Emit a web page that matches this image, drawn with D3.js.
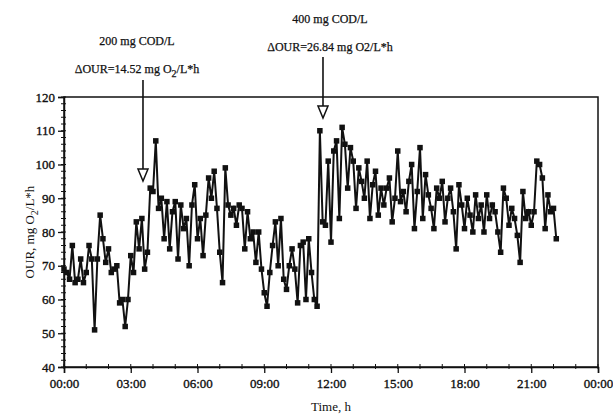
<!DOCTYPE html>
<html>
<head>
<meta charset="utf-8">
<script src="https://cdn.jsdelivr.net/npm/d3@7"></script>
<style>
  body { margin: 0; background: #fff; }
  text { font-family: "Liberation Serif", "DejaVu Serif", serif; fill: #111; }
</style>
</head>
<body>
<div class="chart"></div>
<script>
var svgWidth = 613;
var svgHeight = 418;

var margin = { top: 97, right: 15, bottom: 51, left: 64 };
var width = svgWidth - margin.left - margin.right;
var height = svgHeight - margin.top - margin.bottom;

// data: OUR samples every 7.5 min starting at 00:00
var stepMinutes = 7.5;
var ourValues = [
  69, 68, 66, 76, 65, 66, 72, 65,
  68, 76, 72, 51, 72, 85, 78, 71,
  75, 68, 69, 70, 59, 60, 52, 60,
  73, 68, 83, 75, 84, 69, 74, 93,
  92, 107, 87, 90, 78, 89, 75, 86,
  89, 72, 88, 81, 84, 70, 88, 94,
  78, 84, 73, 85, 96, 90, 98, 87,
  74, 65, 99, 88, 85, 87, 82, 88,
  87, 75, 86, 78, 80, 71, 80, 69,
  62, 58, 68, 76, 83, 70, 84, 66,
  63, 70, 75, 69, 59, 76, 77, 60,
  78, 68, 60, 58, 110, 83, 82, 101,
  77, 104, 107, 84, 111, 106, 93, 105,
  101, 87, 99, 95, 90, 101, 84, 94,
  98, 85, 93, 88, 93, 96, 83, 90,
  104, 89, 92, 86, 95, 100, 81, 92,
  105, 84, 97, 91, 87, 81, 93, 90,
  95, 83, 90, 93, 86, 75, 94, 88,
  81, 90, 85, 80, 91, 84, 88, 80,
  91, 84, 88, 86, 80, 74, 93, 90,
  82, 87, 84, 79, 71, 92, 84, 86,
  82, 86, 101, 100, 96, 81, 91, 86,
  87, 78
];

var xTickHours = [0, 3, 6, 9, 12, 15, 18, 21, 24];
var xTickLabels = ["00:00", "03:00", "06:00", "09:00", "12:00", "15:00", "18:00", "21:00", "00:00"];
var yTicks = [40, 50, 60, 70, 80, 90, 100, 110, 120];

// dosing events
var eventHours = [3.55, 11.64];
var eventLine1 = ["200 mg COD/L", "400 mg COD/L"];
var eventLine2 = ["14.52", "26.84"];

var svg = d3.select(".chart")
  .append("svg")
  .attr("width", svgWidth)
  .attr("height", svgHeight);

var chartGroup = svg.append("g")
  .attr("transform", `translate(${margin.left}, ${margin.top})`);

var xScale = d3.scaleLinear().domain([0, 24]).range([0, width]);
var yScale = d3.scaleLinear().domain([40, 120]).range([height, 0]);

// frame
chartGroup.append("rect")
  .attr("width", width)
  .attr("height", height)
  .attr("fill", "none")
  .attr("stroke", "#111")
  .attr("stroke-width", 1.5);

// minor ticks
var xMinor = d3.range(0, 25, 1);
chartGroup.selectAll(".xminor")
  .data(xMinor)
  .enter().append("line")
  .attr("x1", d => xScale(d)).attr("x2", d => xScale(d))
  .attr("y1", height - 3).attr("y2", height + 2)
  .attr("stroke", "#111");

var yMinor = d3.range(40, 121, 2);
chartGroup.selectAll(".yminor")
  .data(yMinor)
  .enter().append("line")
  .attr("x1", -3).attr("x2", 2)
  .attr("y1", d => yScale(d)).attr("y2", d => yScale(d))
  .attr("stroke", "#111");

// axes
var xAxis = d3.axisBottom(xScale)
  .tickValues(xTickHours)
  .tickFormat((d, i) => xTickLabels[i])
  .tickSize(6)
  .tickPadding(6);

var yAxis = d3.axisLeft(yScale)
  .tickValues(yTicks)
  .tickSize(6)
  .tickPadding(3);

var gx = chartGroup.append("g")
  .attr("transform", `translate(0, ${height})`)
  .call(xAxis);
var gy = chartGroup.append("g").call(yAxis);

[gx, gy].forEach(g => {
  g.select(".domain").attr("stroke", "#111").attr("stroke-width", 1.5);
  g.selectAll(".tick line").attr("stroke", "#111").attr("stroke-width", 1.3);
  g.selectAll(".tick text")
    .style("font-family", '"Liberation Serif", serif')
    .style("font-size", "13px")
    .attr("fill", "#111")
    .attr("stroke", "#111")
    .attr("stroke-width", 0.35);
});

// series
var line = d3.line()
  .x((d, i) => xScale(i * stepMinutes / 60))
  .y(d => yScale(d));

chartGroup.append("path")
  .attr("d", line(ourValues))
  .attr("fill", "none")
  .attr("stroke", "#111")
  .attr("stroke-width", 2);

chartGroup.selectAll(".pt")
  .data(ourValues)
  .enter().append("rect")
  .attr("x", (d, i) => xScale(i * stepMinutes / 60) - 2.75)
  .attr("y", d => yScale(d) - 2.75)
  .attr("width", 5.5)
  .attr("height", 5.5)
  .attr("fill", "#111");

// event arrows and labels
eventHours.forEach(function(h, i) {
  var x = xScale(h);
  var tipY = i === 0 ? 84 : 21;
  var topY = i === 0 ? -17 : -40;
  chartGroup.append("line")
    .attr("x1", x).attr("x2", x)
    .attr("y1", topY).attr("y2", tipY - 12)
    .attr("stroke", "#111").attr("stroke-width", 1.6);
  chartGroup.append("path")
    .attr("d", `M${x - 5},${tipY - 12}L${x + 5},${tipY - 12}L${x},${tipY}Z`)
    .attr("fill", "#fff")
    .attr("stroke", "#111")
    .attr("stroke-width", 1.5);

  var tx = i === 0 ? x - 6 : x + 7;
  var y1 = i === 0 ? -52 : -74;
  chartGroup.append("text")
    .attr("x", tx).attr("y", y1)
    .attr("text-anchor", "middle")
    .style("font-size", "12px")
    .attr("stroke", "#111").attr("stroke-width", 0.25)
    .text(eventLine1[i]);

  var t2 = chartGroup.append("text")
    .attr("x", tx).attr("y", y1 + 28)
    .attr("text-anchor", "middle")
    .attr("stroke", "#111").attr("stroke-width", 0.25)
    .style("font-size", "12px");
  t2.append("tspan").text("\u0394OUR=" + eventLine2[i] + " mg O");
  if (i === 0) {
    t2.append("tspan").attr("dy", 4).style("font-size", "10px").text("2");
    t2.append("tspan").attr("dy", -4).text("/L*h");
  } else {
    t2.append("tspan").text("2/L*h");
  }
});

// axis titles
svg.append("text")
  .attr("x", margin.left + width / 2)
  .attr("y", 411)
  .attr("text-anchor", "middle")
  .style("font-size", "13px")
  .text("Time, h");

var yTitle = svg.append("text")
  .attr("transform", "translate(34, 232) rotate(-90)")
  .attr("text-anchor", "middle")
  .style("font-size", "13px");
yTitle.append("tspan").text("OUR, mg O");
yTitle.append("tspan").attr("dy", 4).style("font-size", "10px").text("2");
yTitle.append("tspan").attr("dy", -4).text("/L*h");
</script>
</body>
</html>
